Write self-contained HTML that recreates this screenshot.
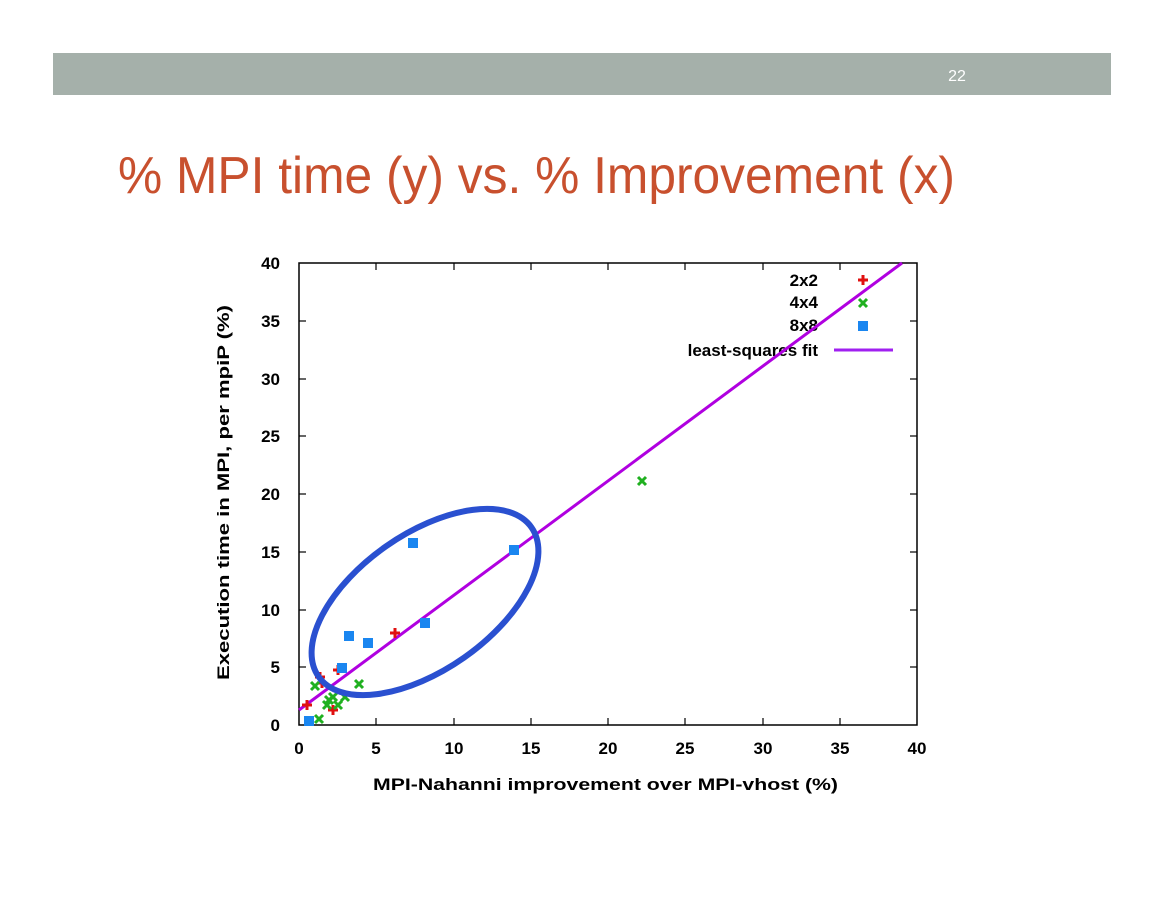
<!DOCTYPE html>
<html><head><meta charset="utf-8"><style>html,body{margin:0;padding:0;background:#fff}svg{display:block}</style></head>
<body>
<svg width="1164" height="899" xmlns="http://www.w3.org/2000/svg" font-family="Liberation Sans, sans-serif">
<rect x="53" y="53" width="1058" height="42" fill="#a5b0aa"/>
<text x="957" y="81" fill="#fff" font-size="16" text-anchor="middle">22</text>
<text x="118" y="193" fill="#c8502e" font-size="52" textLength="837" lengthAdjust="spacingAndGlyphs">% MPI time (y) vs. % Improvement (x)</text>

<rect x="299" y="263" width="618" height="462" fill="none" stroke="#000" stroke-width="1.5"/>
<g stroke="#000" stroke-width="1.2">
<line x1="376" y1="725" x2="376" y2="718"/><line x1="454" y1="725" x2="454" y2="718"/><line x1="531" y1="725" x2="531" y2="718"/><line x1="608" y1="725" x2="608" y2="718"/><line x1="685" y1="725" x2="685" y2="718"/><line x1="763" y1="725" x2="763" y2="718"/><line x1="840" y1="725" x2="840" y2="718"/>
<line x1="376" y1="263" x2="376" y2="270"/><line x1="454" y1="263" x2="454" y2="270"/><line x1="531" y1="263" x2="531" y2="270"/><line x1="608" y1="263" x2="608" y2="270"/><line x1="685" y1="263" x2="685" y2="270"/><line x1="763" y1="263" x2="763" y2="270"/><line x1="840" y1="263" x2="840" y2="270"/>
<line x1="299" y1="667" x2="306" y2="667"/><line x1="299" y1="610" x2="306" y2="610"/><line x1="299" y1="552" x2="306" y2="552"/><line x1="299" y1="494" x2="306" y2="494"/><line x1="299" y1="436" x2="306" y2="436"/><line x1="299" y1="379" x2="306" y2="379"/><line x1="299" y1="321" x2="306" y2="321"/>
<line x1="917" y1="667" x2="910" y2="667"/><line x1="917" y1="610" x2="910" y2="610"/><line x1="917" y1="552" x2="910" y2="552"/><line x1="917" y1="494" x2="910" y2="494"/><line x1="917" y1="436" x2="910" y2="436"/><line x1="917" y1="379" x2="910" y2="379"/><line x1="917" y1="321" x2="910" y2="321"/>
</g>
<g font-size="17" font-weight="bold" text-anchor="middle">
<text x="299" y="754">0</text><text x="376" y="754">5</text><text x="454" y="754">10</text><text x="531" y="754">15</text><text x="608" y="754">20</text><text x="685" y="754">25</text><text x="763" y="754">30</text><text x="840" y="754">35</text><text x="917" y="754">40</text>
</g>
<g font-size="17" font-weight="bold" text-anchor="end">
<text x="280" y="731">0</text><text x="280" y="673">5</text><text x="280" y="616">10</text><text x="280" y="558">15</text><text x="280" y="500">20</text><text x="280" y="442">25</text><text x="280" y="385">30</text><text x="280" y="327">35</text><text x="280" y="269">40</text>
</g>
<text x="373" y="790" font-size="17" font-weight="bold" textLength="465" lengthAdjust="spacingAndGlyphs">MPI-Nahanni improvement over MPI-vhost (%)</text>
<text transform="translate(229,680) rotate(-90)" font-size="17" font-weight="bold" textLength="375" lengthAdjust="spacingAndGlyphs">Execution time in MPI, per mpiP (%)</text>

<g font-size="17" font-weight="bold" text-anchor="end">
<text x="818" y="286">2x2</text><text x="818" y="308">4x4</text><text x="818" y="331">8x8</text><text x="818" y="356">least-squares fit</text>
</g>
<line x1="834" y1="350" x2="893" y2="350" stroke="#a020f0" stroke-width="3"/>

<line x1="299" y1="710" x2="902" y2="263" stroke="#b000e0" stroke-width="3"/>

<g stroke="#e01010" stroke-width="3">
<path d="M858 280h10M863 275v10"/>
<path d="M302 705h10M307 700v10"/><path d="M315 677h10M320 672v10"/><path d="M317 683h10M322 678v10"/><path d="M333 670h10M338 665v10"/><path d="M328 710h10M333 705v10"/><path d="M390 633h10M395 628v10"/>
</g>
<g stroke="#20b020" stroke-width="3">
<path d="M859 299l8 8M867 299l-8 8"/>
<path d="M311 682l8 8M319 682l-8 8"/><path d="M315 715l8 8M323 715l-8 8"/><path d="M323 701l8 8M331 701l-8 8"/><path d="M329 693l8 8M337 693l-8 8"/><path d="M334 701l8 8M342 701l-8 8"/><path d="M341 693l8 8M349 693l-8 8"/><path d="M355 680l8 8M363 680l-8 8"/><path d="M638 477l8 8M646 477l-8 8"/><path d="M325 696l8 8M333 696l-8 8"/>
</g>
<g fill="#1a86f0">
<rect x="858" y="321" width="10" height="10"/>
<rect x="304" y="716" width="10" height="10"/><rect x="337" y="663" width="10" height="10"/><rect x="344" y="631" width="10" height="10"/><rect x="363" y="638" width="10" height="10"/><rect x="408" y="538" width="10" height="10"/><rect x="420" y="618" width="10" height="10"/><rect x="509" y="545" width="10" height="10"/>
</g>
<ellipse cx="425" cy="602" rx="130" ry="68" transform="rotate(-35 425 602)" fill="none" stroke="#2a50d0" stroke-width="6"/>
</svg>
</body></html>
